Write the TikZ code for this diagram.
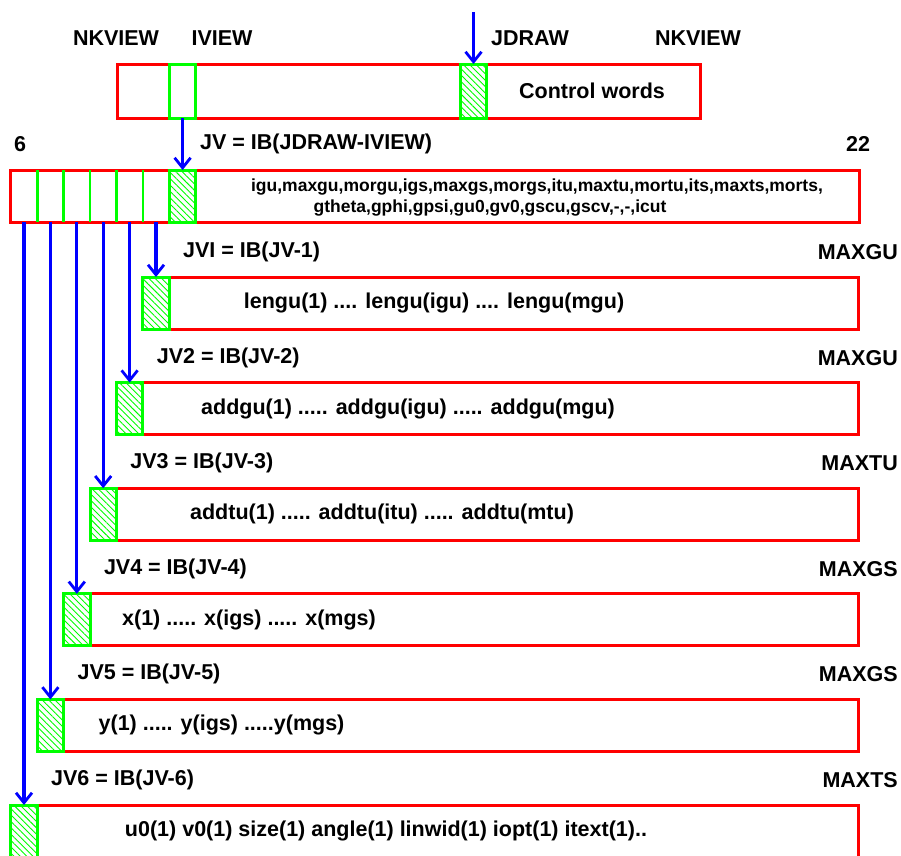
\documentclass[tikz,border=0pt]{standalone}
\usepackage{fontspec}
\setmainfont{Liberation Sans}
\usetikzlibrary{arrows.meta,patterns.meta}

\begin{document}
\begin{tikzpicture}[x=1pt,y=-1pt,
  lab/.style={font=\fontsize{21.5}{24}\selectfont\bfseries,inner sep=0pt},
  small/.style={font=\fontsize{17.5}{20}\selectfont\bfseries,inner sep=0pt},
  box/.style={draw=red,line width=3pt,rectangle,inner sep=0pt,outer sep=0pt,anchor=north west},
  slot/.style={rectangle,inner sep=0pt,outer sep=0pt,minimum width=26.4pt,minimum height=52pt},
  cell/.style={slot,draw=green,line width=3pt},
  hcell/.style={cell,pattern={Lines[angle=-45,distance=4.5pt,line width=0.9pt]},pattern color=green},
  arr/.style={draw=blue,line width=3.2pt,-{Straight Barb[length=10pt,width=16pt,line width=2.8pt]}}]
\useasboundingbox (0,0) rectangle (901,855);
\clip (0,0) rectangle (901,855);
\node[lab] (nk1) at (116,38) {NKVIEW};
\node[lab] (iv) at (222,38) {IVIEW};
\node[lab] (jd) at (530,38) {JDRAW};
\node[lab] (nk2) at (698,38) {NKVIEW};
\node[box,minimum width=583pt,minimum height=54pt] (ctrl) at (117,64) {};
\node[cell,minimum height=54pt] (iview) at (182.6,91) {};
\node[hcell,minimum height=54pt] (jdraw) at (473.5,91) {};
\node[lab] (cw) at (592,91) {Control words};
\coordinate (top) at (473.5,12);
\draw[arr] (top) -- (jdraw.north);
\node[lab] (six) at (20,144) {6};
\node[lab] (tt) at (858,144) {22};
\node[lab,anchor=west] (jvlab) at (200,144) {JV = IB(JDRAW-IVIEW)};
\node[box,minimum width=849pt,minimum height=52pt] (cb) at (10,170) {};
\foreach \k in {1,...,6} {
  \pgfmathsetmacro\cx{156-26.4*(\k-1)}
  \node[slot] (slot\k) at (\cx,196) {};
}
\foreach \k in {1,...,5} {
  \draw[green,line width=2.6pt] (slot\k.north west) -- (slot\k.south west);
}
\node[hcell] (jv) at (182.6,196) {};
\draw[arr] (iview.south) -- (jv.north);
\node[small] (cb1) at (537,187) {igu,maxgu,morgu,igs,maxgs,morgs,itu,maxtu,mortu,its,maxts,morts,};
\node[small] (cb2) at (490,208) {gtheta,gphi,gpsi,gu0,gv0,gscu,gscv,-,-,icut};
\foreach \k/\jn/\mx/\tx/\txt in {
  1/I/MAXGU/434/{lengu(1) .... lengu(igu) .... lengu(mgu)},
  2/2/MAXGU/408/{addgu(1) ..... addgu(igu) ..... addgu(mgu)},
  3/3/MAXTU/382/{addtu(1) ..... addtu(itu) ..... addtu(mtu)},
  4/4/MAXGS/249/{x(1) ..... x(igs) ..... x(mgs)},
  5/5/MAXGS/221.5/{y(1) ..... y(igs) .....y(mgs)},
  6/6/MAXTS/386/{u0(1) v0(1) size(1) angle(1) linwid(1) iopt(1) itext(1)..}} {
  \pgfmathsetmacro\cx{156-26.4*(\k-1)}
  \pgfmathsetmacro\ty{277+105.6*(\k-1)}
  \pgfmathsetmacro\bw{858-\cx+13.2}
  \node[box,minimum width=\bw pt,minimum height=52pt] (box\k) at (\cx-13.2,\ty) {};
  \node[hcell,anchor=north] (cell\k) at (\cx,\ty) {};
  \node[lab,anchor=west] (name\k) at (\cx+27,\ty-25) {JV\jn{} = IB(JV-\k)};
  \node[lab,anchor=east] (max\k) at (898,\ty-25) {\mx};
  \node[lab] (txt\k) at (\tx,\ty+26) {\txt};
  \draw[arr] (slot\k.south) -- (cell\k.north);
}
\end{tikzpicture}
\end{document}
